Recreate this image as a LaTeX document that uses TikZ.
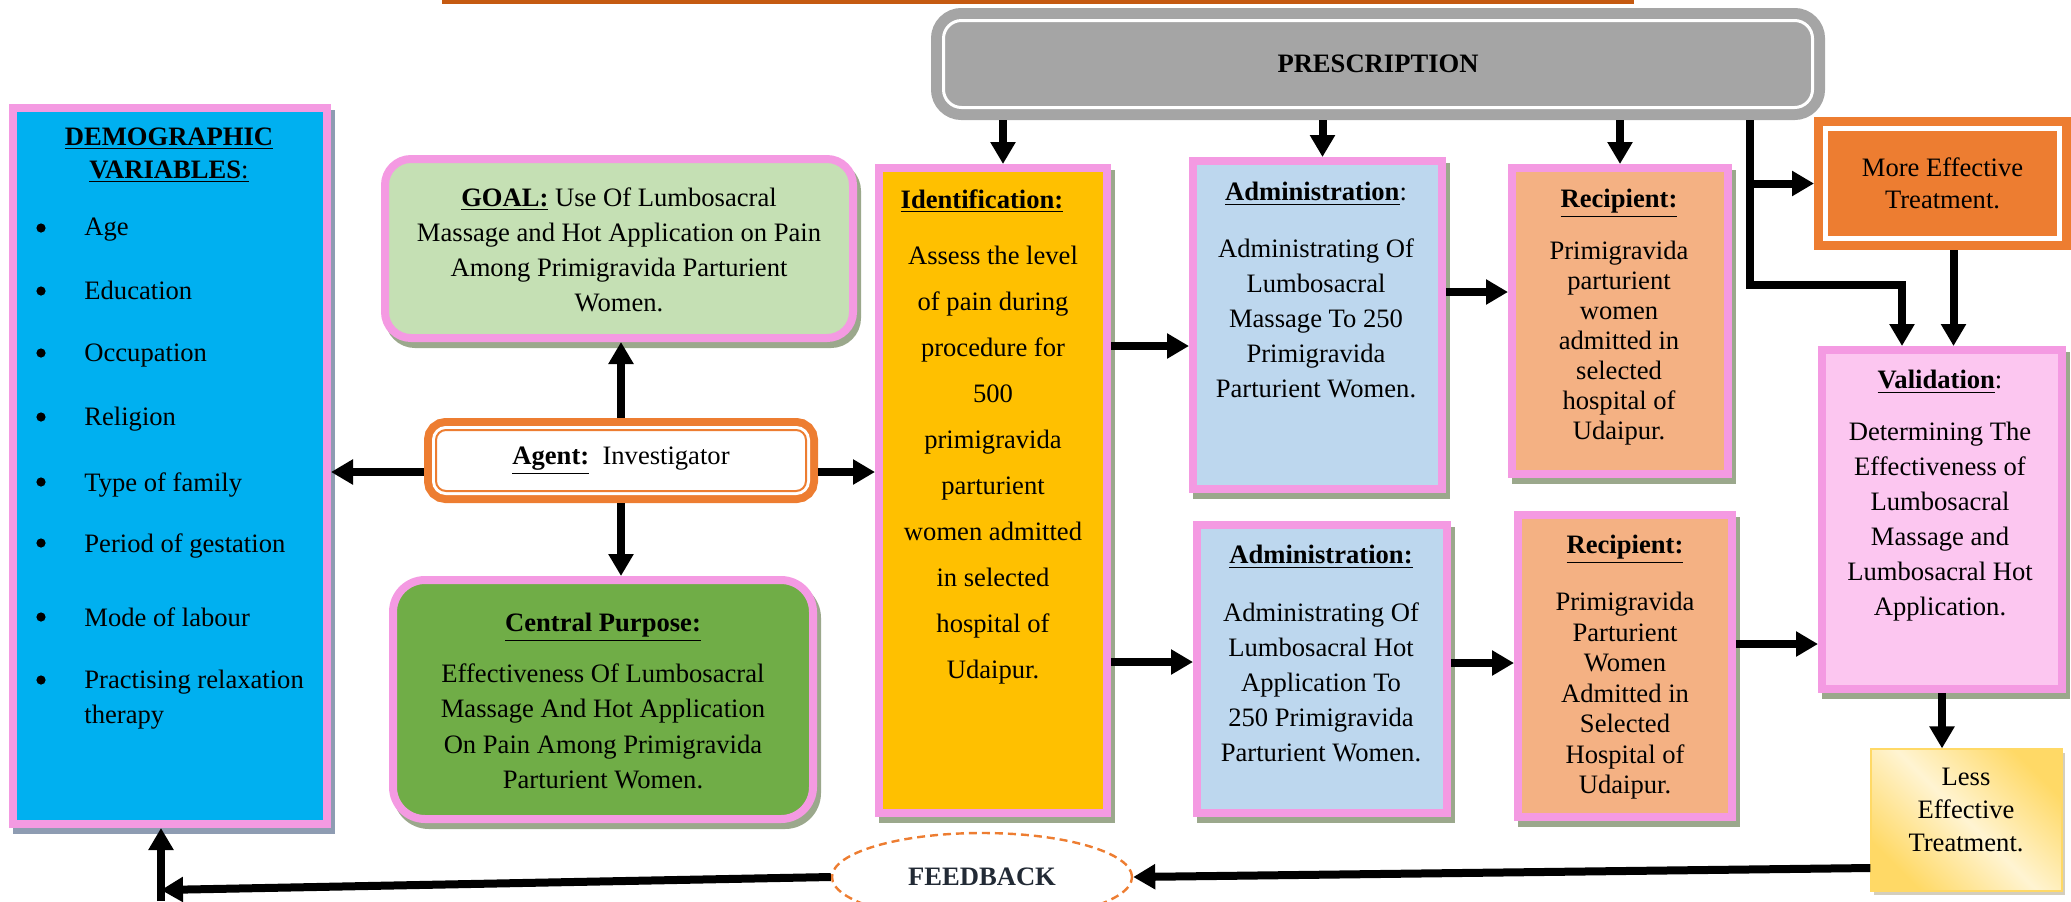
\documentclass[tikz,border=0pt]{standalone}
\usepackage{fontspec}
\setmainfont{Liberation Serif}
\usetikzlibrary{arrows.meta,shadows,shapes.geometric}

\definecolor{pinkline}{RGB}{244,154,226}
\definecolor{demoblue}{RGB}{0,176,240}
\definecolor{goalgreen}{RGB}{197,224,180}
\definecolor{purposegreen}{RGB}{112,173,71}
\definecolor{identgold}{RGB}{255,192,0}
\definecolor{admblue}{RGB}{189,215,238}
\definecolor{recpeach}{RGB}{244,177,131}
\definecolor{validpink}{RGB}{252,198,240}
\definecolor{moreorange}{RGB}{237,125,49}
\definecolor{presgray}{RGB}{165,165,165}
\definecolor{topline}{RGB}{197,90,17}
\definecolor{shadegreen}{RGB}{155,168,140}
\definecolor{shadeblue}{RGB}{142,156,178}
\definecolor{shadelight}{RGB}{212,206,188}
\definecolor{lessgold}{RGB}{255,217,102}
\definecolor{lesslight}{RGB}{255,244,210}
\definecolor{feedink}{RGB}{34,42,53}

\begin{document}
\begin{tikzpicture}[x=0.5pt,y=-0.5pt,font=\fontsize{13.3}{17.5}\selectfont,
  boxsize/.style 2 args={minimum width=#1*0.5pt,minimum height=#2*0.5pt},
  pinkbox/.style 2 args={draw=pinkline,line width=4pt,fill=#1,inner sep=0pt,
    general shadow={draw=#2,fill=#2,line width=4pt,shadow xshift=2pt,shadow yshift=-3pt}},
  lines/.style={font=\fontsize{13.3}{#1}\selectfont,align=center,inner sep=0pt,anchor=north},
  head/.style={inner sep=0pt,anchor=north},
  dot/.style={circle,fill=black,inner sep=0pt,minimum size=4.6pt},
  link/.style={line width=4pt,-{Triangle[length=11pt,width=12pt]}}]

\useasboundingbox (0,0) rectangle (2071,901);

\node[pinkbox={demoblue}{shadeblue},boxsize={314}{716}]                        (Demo)    at (170,466)    {};
\node[pinkbox={goalgreen}{shadegreen},rounded corners=13pt,boxsize={468}{179}] (Goal)    at (619,248.5)  {};
\node[pinkbox={purposegreen}{shadegreen},rounded corners=16pt,boxsize={420}{239}] (Purpose) at (603,699.5) {};
\node[pinkbox={identgold}{shadegreen},boxsize={228}{645}]                      (Ident)   at (993,490.5)  {};
\node[pinkbox={admblue}{shadegreen},boxsize={249}{328}]                        (AdmA)    at (1317.5,325) {};
\node[pinkbox={recpeach}{shadegreen},boxsize={216}{306}]                       (RecA)    at (1620,321)   {};
\node[pinkbox={admblue}{shadegreen},boxsize={250}{288}]                        (AdmB)    at (1322,669)   {};
\node[pinkbox={recpeach}{shadegreen},boxsize={214}{302}]                       (RecB)    at (1625,666)   {};
\node[pinkbox={validpink}{shadegreen},boxsize={240}{339}]                      (Valid)   at (1942,519.5) {};

\node[fill=presgray,draw=presgray,line width=5.5pt,double=white,double distance=1.5pt,
      rounded corners=9pt,boxsize={869}{87},outer sep=6.25pt,
      font=\bfseries\fontsize{13.3}{16}\selectfont] (Pres) at (1378,64) {PRESCRIPTION};
\node[fill=white,draw=moreorange,line width=1pt,rounded corners=5pt,boxsize={370}{61},outer sep=6pt,
      preaction={draw=moreorange,line width=12pt},preaction={draw=white,line width=4pt}]
      (Agent) at (621,460.5) {\underline{\textbf{Agent:}}\ \ Investigator};
\node[fill=moreorange,draw=moreorange,line width=4.5pt,double=white,double distance=2.5pt,
      boxsize={234}{110},outer sep=5.75pt,align=center,font=\fontsize{13.3}{16}\selectfont]
      (More) at (1942.5,183.5) {More Effective\\Treatment.};
\node[draw=lessgold,line width=0.6pt,top color=lessgold,bottom color=lessgold,middle color=lesslight,
      shading angle=-45,boxsize={191}{142},
      general shadow={fill=shadelight,shadow xshift=1.5pt,shadow yshift=-2pt}] (Less) at (1966.5,820) {};
\node[ellipse,draw=moreorange,line width=1.2pt,dash pattern=on 4pt off 2.5pt,inner sep=0pt,boxsize={300}{88},
      text=feedink,font=\bfseries\fontsize{13.3}{16}\selectfont] (Feed) at (982,877) {FEEDBACK};

\node[lines=16.5pt] (DemoT) at (169,127) {\underline{\textbf{DEMOGRAPHIC}}\\\underline{\textbf{VARIABLES}:}};
\foreach \txt/\yy [count=\k] in {Age/228,Education/291,Occupation/353,Religion/417,Type of family/482,
    Period of gestation/543,Mode of labour/617,{Practising relaxation\\therapy}/680}
{
  \node[dot] (Dot\k) at (41,\yy) {};
  \node[anchor=north west,align=left,inner sep=0pt] (Var\k) at (84,\yy-10) {\txt};
}

\node[lines=17.5pt] (GoalT) at (619,187) {\underline{\textbf{GOAL:}} Use Of Lumbosacral\\Massage and Hot Application on Pain\\Among Primigravida Parturient\\Women.};
\node[head] (PurposeH) at (603,613) {\underline{\textbf{Central Purpose:}}};
\node[lines=17.75pt] (PurposeT) at (603,663) {Effectiveness Of Lumbosacral\\Massage And Hot Application\\On Pain Among Primigravida\\Parturient Women.};
\node[head] (IdentH) at (982,189) {\underline{\textbf{Identification:}}};
\node[lines=23pt] (IdentT) at (993,246) {Assess the level\\of pain during\\procedure for\\500\\primigravida\\parturient\\women admitted\\in selected\\hospital of\\Udaipur.};
\node[head] (AdmAH) at (1316,182) {\underline{\textbf{Administration}}:};
\node[lines=17.5pt] (AdmAT) at (1316,238) {Administrating Of\\Lumbosacral\\Massage To 250\\Primigravida\\Parturient Women.};
\node[head] (RecAH) at (1619,189) {\underline{\textbf{Recipient:}}};
\node[lines=15pt] (RecAT) at (1619,241) {Primigravida\\parturient\\women\\admitted in\\selected\\hospital of\\Udaipur.};
\node[head] (AdmBH) at (1321,545) {\underline{\textbf{Administration:}}};
\node[lines=17.5pt] (AdmBT) at (1321,602) {Administrating Of\\Lumbosacral Hot\\Application To\\250 Primigravida\\Parturient Women.};
\node[head] (RecBH) at (1625,535) {\underline{\textbf{Recipient:}}};
\node[lines=15.25pt] (RecBT) at (1625,592) {Primigravida\\Parturient\\Women\\Admitted in\\Selected\\Hospital of\\Udaipur.};
\node[head] (ValidH) at (1940,370) {\underline{\textbf{Validation}}:};
\node[lines=17.5pt] (ValidT) at (1940,422) {Determining The\\Effectiveness of\\Lumbosacral\\Massage and\\Lumbosacral Hot\\Application.};
\node[lines=16.5pt] (LessT) at (1966,768) {Less\\Effective\\Treatment.};

\coordinate (TopA) at (442,2);
\coordinate (TopB) at (1634,2);
\draw[topline,line width=2pt] (TopA) -- (TopB);

\draw[link] (Agent.north) -- (Agent.north |- Goal.south);
\draw[link] (Agent.south) -- (Agent.south |- Purpose.north);
\draw[link] ([yshift=-5.75pt]Agent.west) -- ([yshift=-5.75pt]Agent.west -| Demo.east);
\draw[link] ([yshift=-5.75pt]Agent.east) -- ([yshift=-5.75pt]Agent.east -| Ident.west);

\coordinate (IdentIn) at ([xshift=5pt]Ident.north);
\coordinate (AdmAIn) at ([xshift=2.5pt]AdmA.north);
\draw[link] (IdentIn |- Pres.south) -- (IdentIn);
\draw[link] (AdmAIn |- Pres.south) -- (AdmAIn);
\draw[link] (RecA.north |- Pres.south) -- (RecA.north);

\coordinate (Tap) at ([xshift=-37.5pt]Pres.south east);
\coordinate (Bend) at ([xshift=-20pt]Valid.north);
\draw[link] (Tap) -- ++(0,165) -| (Bend);
\draw[link] (Tap |- More.west) -- (More.west);
\coordinate (MoreOut) at ([xshift=5.5pt]More.south);
\draw[link] (MoreOut) -- (MoreOut |- Valid.north);
\draw[link] (Valid.south) -- (Valid.south |- Less.north);

\coordinate (IdA) at ([yshift=-10.5pt]AdmA.west);
\coordinate (AtoR) at ([yshift=16.5pt]AdmA.east);
\coordinate (IdB) at ([yshift=3.5pt]AdmB.west);
\coordinate (BtoR) at ([yshift=3pt]AdmB.east);
\coordinate (RtoV) at ([yshift=11pt]RecB.east);
\draw[link] (IdA -| Ident.east) -- (IdA);
\draw[link] (AtoR) -- (AtoR -| RecA.west);
\draw[link] (IdB -| Ident.east) -- (IdB);
\draw[link] (BtoR) -- (BtoR -| RecB.west);
\draw[link] (RtoV) -- (RtoV -| Valid.west);

\coordinate (LessOut) at ([yshift=-24pt]Less.west);
\coordinate (Turn) at (161,890);
\coordinate (Foot) at (161,901);
\draw[link] (LessOut) -- (Feed.east);
\draw[link] (Feed.west) -- (Turn);
\draw[link] (Foot) -- (Foot |- Demo.south);

\end{tikzpicture}
\end{document}
